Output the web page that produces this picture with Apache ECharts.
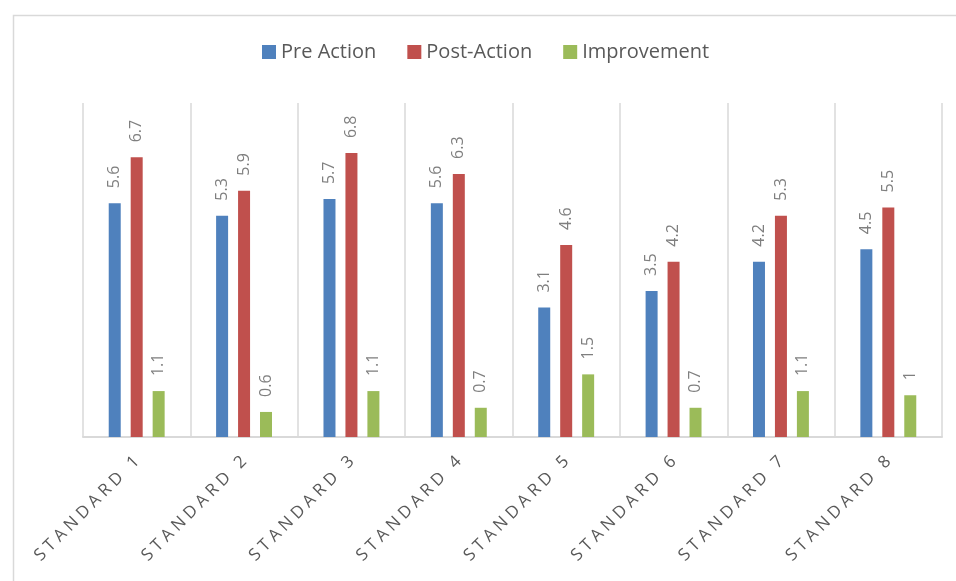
<!DOCTYPE html>
<html>
<head>
<meta charset="utf-8">
<script src="https://cdn.jsdelivr.net/npm/echarts@6/dist/echarts.min.js"></script>
<style>
  html, body { margin: 0; padding: 0; background: #fff; }
  #main { width: 956px; height: 581px; }
</style>
</head>
<body>
<div id="main"></div>
<script>
// data
var categories = ['Standard 1', 'Standard 2', 'Standard 3', 'Standard 4',
                  'Standard 5', 'Standard 6', 'Standard 7', 'Standard 8'];
var preAction = [5.6, 5.3, 5.7, 5.6, 3.1, 3.5, 4.2, 4.5];
var postAction = [6.7, 5.9, 6.8, 6.3, 4.6, 4.2, 5.3, 5.5];
var improvement = [1.1, 0.6, 1.1, 0.7, 1.5, 0.7, 1.1, 1];

var chart = echarts.init(document.getElementById('main'));

// label of each bar, turned upright
var barLabel = {
  show: true,
  position: 'top',
  rotate: 90,
  align: 'left',
  verticalAlign: 'middle',
  distance: 15,
  color: '#7f7f7f',
  fontSize: 16,
  fontFamily: 'Open Sans'
};

function makeSeries(name, data, color) {
  return {
    name: name,
    type: 'bar',
    data: data,
    barWidth: 12,
    barGap: '83%',
    itemStyle: { color: color },
    label: barLabel
  };
}

var option = {
  animation: false,
  textStyle: { fontFamily: 'Open Sans' },
  // outer frame of the chart
  graphic: [{
    type: 'rect',
    left: 11,
    top: 13,
    shape: { width: 1000, height: 1000 },
    style: { fill: 'none', stroke: '#d9d9d9', lineWidth: 1.5 },
    silent: true
  }],
  legend: {
    left: 257,
    top: 37,
    icon: 'rect',
    itemWidth: 14,
    itemHeight: 14,
    itemGap: 31,
    textStyle: { color: '#595959', fontSize: 20, fontFamily: 'Open Sans' },
    data: ['Pre Action', 'Post-Action', 'Improvement']
  },
  grid: { left: 83, right: 14, top: 103, bottom: 144 },
  xAxis: {
    type: 'category',
    data: categories,
    axisTick: { show: false },
    axisLine: { lineStyle: { color: '#d9d9d9', width: 2 } },
    splitLine: { show: true, interval: 0, lineStyle: { color: '#d9d9d9', width: 1.5 } },
    axisLabel: {
      interval: 0,
      rotate: 45,
      margin: 22,
      color: '#595959',
      fontSize: 17,
      fontFamily: 'Open Sans',
      // spaced capitals, as in the original
      formatter: function (v) {
        return v.toUpperCase().split('').join('\u2005');
      }
    }
  },
  yAxis: {
    type: 'value',
    min: 0,
    max: 8,
    show: false,
    splitLine: { show: false }
  },
  series: [
    makeSeries('Pre Action', preAction, '#4f81bd'),
    makeSeries('Post-Action', postAction, '#c0504d'),
    makeSeries('Improvement', improvement, '#9bbb59')
  ]
};

chart.setOption(option);
</script>
</body>
</html>
